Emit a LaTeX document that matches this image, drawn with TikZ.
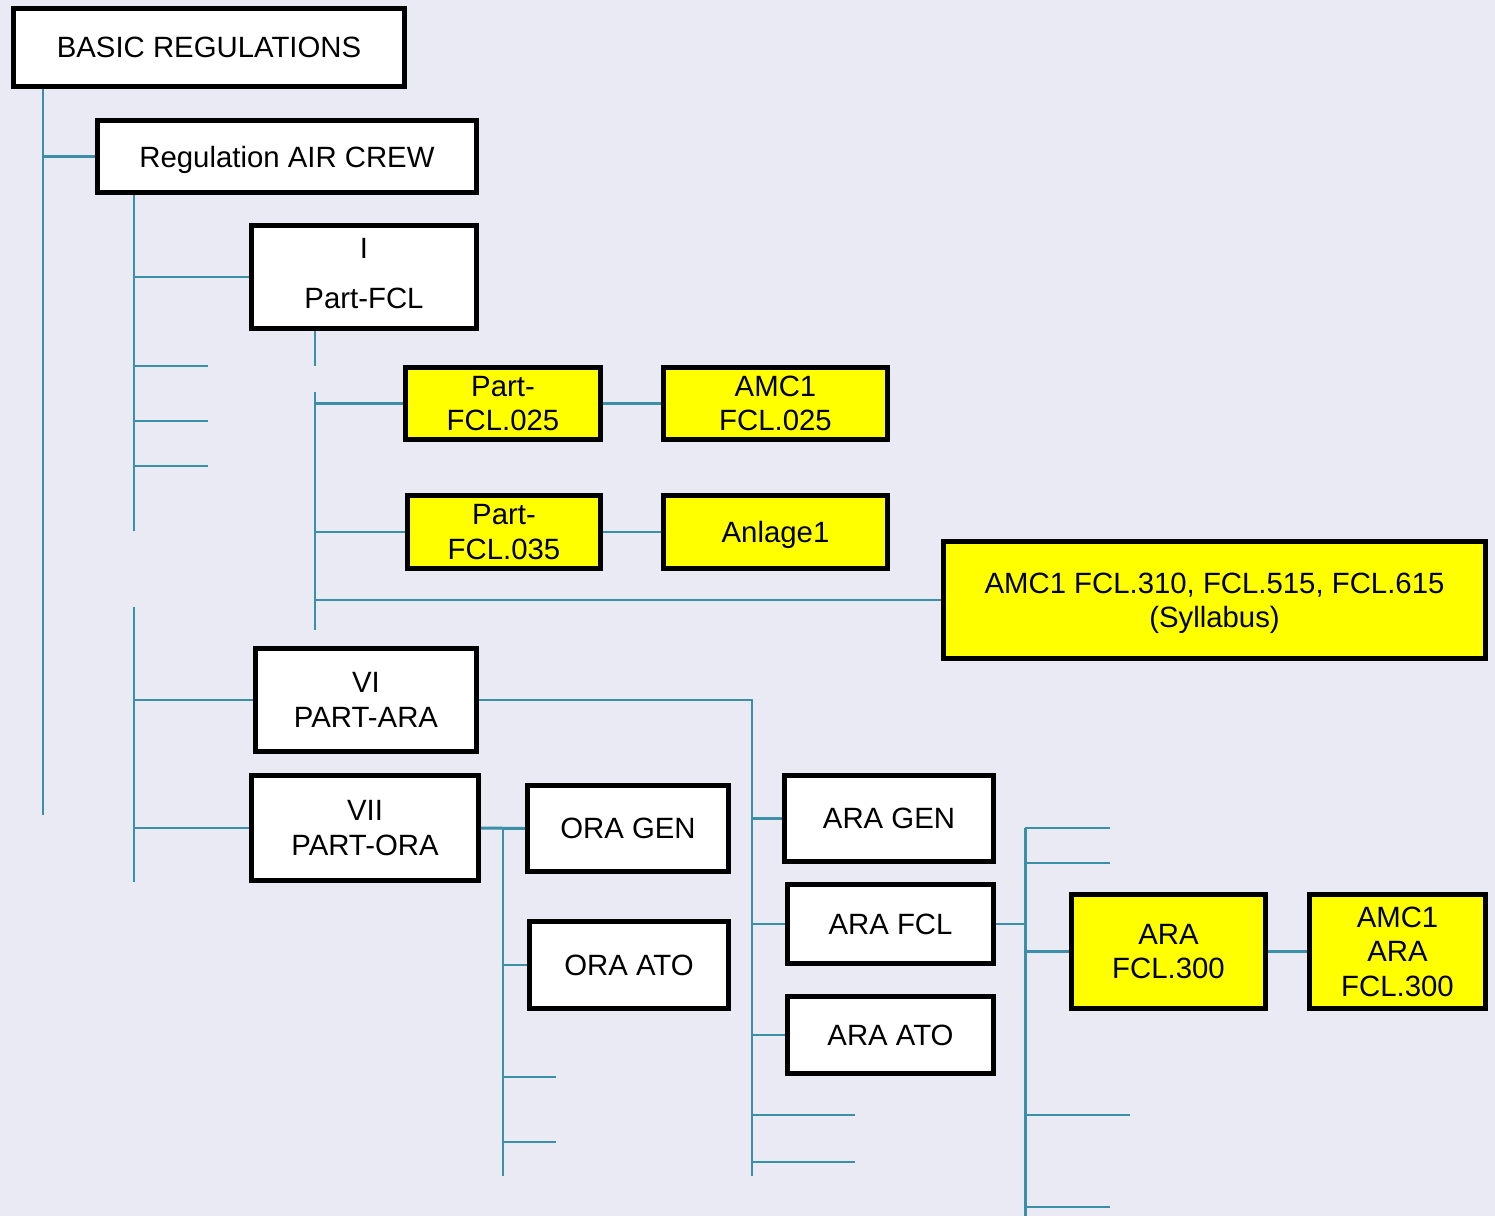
\documentclass[tikz,border=0pt]{standalone}
\usepackage{fontspec}
\setmainfont{Liberation Sans}
\definecolor{bgc}{RGB}{234,234,244}
\definecolor{teal1}{RGB}{58,144,168}
\definecolor{yel}{RGB}{255,255,0}
\newcommand\mkbox[7]{%
  \node[#1, minimum width={(#4-#2-5)*0.02cm}, minimum height={(#5-#3-5)*0.02cm}] (#6) at ({(#2+#4)/2},{(#3+#5)/2}) {#7};}
\begin{document}
\begin{tikzpicture}[x=0.02cm,y=-0.02cm,
  boxbase/.style={draw=black, line width=0.1cm, inner sep=2pt, align=center,
    text depth=0pt, font=\fontsize{16.7}{19.6}\selectfont},
  wbox/.style={boxbase, fill=white},
  ybox/.style={boxbase, fill=yel},
  conn/.style={draw=teal1, line width=1.2pt},
  connb/.style={draw=teal1, line width=1.7pt}]
\fill[bgc] (0,0) rectangle (1495,1216);
\useasboundingbox (0,0) rectangle (1495,1216);

% x positions of buses
\coordinate (xA) at (43,0);
\coordinate (xB) at (134,0);
\coordinate (xC) at (315,0);
\coordinate (xD) at (752,0);
\coordinate (xE) at (503,0);
\coordinate (xF) at (1025,0);

% ---------- boxes ----------
\mkbox{wbox}{11}{6}{407}{89}{basic}{BASIC REGULATIONS}
\mkbox{wbox}{95}{118}{479}{195}{reg}{Regulation AIR CREW}
\mkbox{wbox,text depth=4pt}{249}{223}{479}{331}{pfcl}{I\\[9pt]Part-FCL}
\mkbox{ybox}{403}{365}{603}{442}{p025}{Part-\\FCL.025}
\mkbox{ybox}{661}{365}{890}{442}{amc025}{AMC1\\FCL.025}
\mkbox{ybox}{405}{493}{603}{571}{p035}{Part-\\FCL.035}
\mkbox{ybox}{661}{493}{890}{571}{anl}{Anlage1}
\mkbox{ybox}{941}{539}{1488}{661}{syl}{AMC1 FCL.310, FCL.515, FCL.615\\(Syllabus)}
\mkbox{wbox}{253}{646}{479}{754}{vi}{VI\\PART-ARA}
\mkbox{wbox}{249}{773}{481}{883}{vii}{VII\\PART-ORA}
\mkbox{wbox}{525}{783}{731}{874}{oragen}{ORA GEN}
\mkbox{wbox}{527}{919}{731}{1011}{oraato}{ORA ATO}
\mkbox{wbox}{782}{773}{996}{864}{aragen}{ARA GEN}
\mkbox{wbox}{785}{882}{996}{966}{arafcl}{ARA FCL}
\mkbox{wbox}{785}{994}{996}{1076}{araato}{ARA ATO}
\mkbox{ybox}{1069}{892}{1268}{1011}{ara300}{ARA\\FCL.300}
\mkbox{ybox}{1307}{892}{1488}{1011}{amcara}{AMC1\\ARA\\FCL.300}

% ---------- connectors ----------
% basic regulations bus
\coordinate (b1end) at (43,815);
\draw[conn] (basic.south -| xA) -- (b1end);
\draw[conn] (reg.west -| xA) -- (reg.west);

% regulation air crew bus (upper)
\coordinate (b2end) at (134,531);
\draw[conn] (reg.south -| xB) -- (b2end);
\draw[conn] (pfcl.west -| xB) -- (pfcl.west);
\foreach \yy in {366,421,466} \draw[conn] (134,\yy) -- (208,\yy);

% Part-FCL
\coordinate (pst) at (315,366);
\draw[conn] (pfcl.south -| xC) -- (pst);
\coordinate (b3top) at (315,392);
\coordinate (b3end) at (315,630);
\draw[conn] (b3top) -- (b3end);
\draw[conn] (p025.west -| xC) -- (p025.west);
\draw[conn] (p035.west -| xC) -- (p035.west);
\draw[conn] (syl.west -| xC) -- (syl.west);
\draw[conn] (p025.east) -- (amc025.west);
\draw[conn] (p035.east) -- (anl.west);

% regulation air crew bus (lower)
\coordinate (b4top) at (134,607);
\coordinate (b4end) at (134,882);
\draw[conn] (b4top) -- (b4end);
\draw[connb] (vi.west -| xB) -- (vi.west);
\draw[connb] (vii.west -| xB) -- (vii.west);

% PART-ARA
\coordinate (b5end) at (752,1176);
\draw[conn] (vi.east) -- (vi.east -| xD) -- (b5end);
\draw[conn] (aragen.west -| xD) -- (aragen.west);
\draw[conn] (arafcl.west -| xD) -- (arafcl.west);
\draw[conn] (araato.west -| xD) -- (araato.west);
\draw[connb] (752,1115) -- (855,1115);
\draw[conn] (752,1162) -- (855,1162);

% PART-ORA
\coordinate (b6end) at (503,1176);
\draw[connb] (vii.east) -- (oragen.west);
\draw[conn] (vii.east -| xE) -- (b6end);
\draw[conn] (oraato.west -| xE) -- (oraato.west);
\foreach \yy in {1077,1142} \draw[conn] (503,\yy) -- (556,\yy);

% ARA FCL
\coordinate (b7top) at (1025,828);
\coordinate (b7end) at (1025,1216);
\draw[connb] (b7top) -- (b7end);
\draw[conn] (arafcl.east) -- (arafcl.east -| xF);
\draw[connb] (b7top) -- (1110,828);
\draw[conn] (1025,863) -- (1110,863);
\draw[connb] (ara300.west -| xF) -- (ara300.west);
\draw[connb] (1025,1115) -- (1130,1115);
\draw[conn] (1025,1207) -- (1110,1207);
\draw[conn] (ara300.east) -- (amcara.west);
\end{tikzpicture}
\end{document}
